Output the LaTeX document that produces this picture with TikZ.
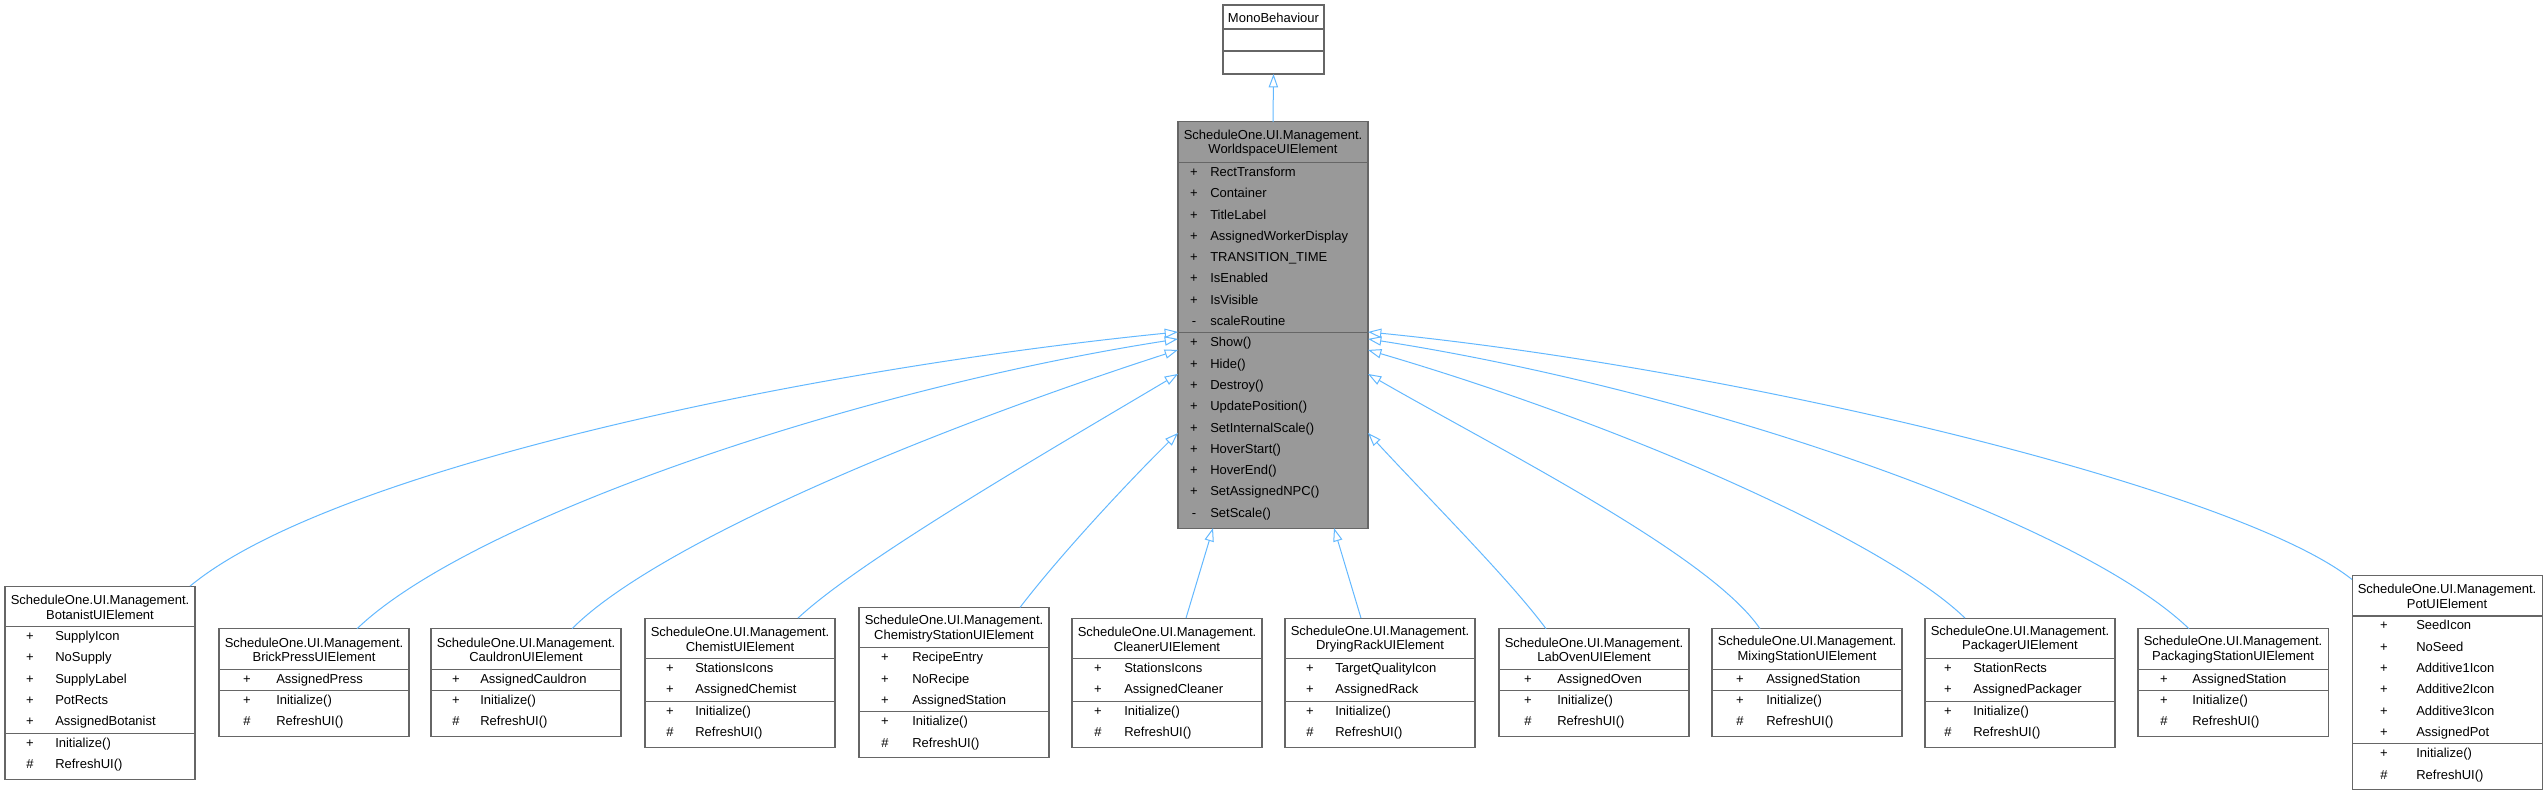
\documentclass[tikz,border=0pt]{standalone}
\usepackage{fontspec}
\setmainfont{Liberation Sans}
\usetikzlibrary{arrows.meta}
\usetikzlibrary{calc}

\definecolor{boxgray}{HTML}{666666}
\definecolor{boxfill}{HTML}{999999}
\definecolor{edgeblue}{HTML}{63B8FF}

% class box: [options]{name}{left x}{centre y}{title}{attributes}{methods}{symbol column}{name column}
\newcommand{\umlclass}[9][fill=white]{%
  \def\na{0}\foreach \vis/\mem [count=\i] in {#6} {\xdef\na{\i}}%
  \def\nm{0}\foreach \vis/\mem [count=\i] in {#7} {\xdef\nm{\i}}%
  \pgfmathsetmacro\ha{40.5+21.3*\na}%
  \pgfmathsetmacro\hb{\ha+21.3*\nm+3.5}%
  \node[classbox, #1, minimum height=\hb*0.75pt] (#2) at (#3,#4) {};
  \node[classtitle] at ($(#2.north west)+(95,21)$) {#5};
  \draw[classline] ($(#2.north west)+(0,40.5)$) -- +(190,0);
  \draw[classline] ($(#2.north west)+(0,\ha)$) -- +(190,0);
  \foreach \vis/\mem [count=\i] in {#6} {
    \node[member] at ($(#2.north west)+(#8,40.5+21.3*\i-10.65)$) {\vis};
    \node[member, anchor=west] at ($(#2.north west)+(#9,40.5+21.3*\i-10.65)$) {\mem};
  }
  \foreach \vis/\mem [count=\i] in {#7} {
    \node[member] at ($(#2.north west)+(#8,\ha+21.3*\i-10.65)$) {\vis};
    \node[member, anchor=west] at ($(#2.north west)+(#9,\ha+21.3*\i-10.65)$) {\mem};
  }
}

\begin{document}
\begin{tikzpicture}[x=0.75pt, y=-0.75pt,
    font=\fontsize{9.75}{10.9}\selectfont,
    classbox/.style={draw=boxgray, line width=0.8pt, minimum width=142.5pt, inner sep=0pt, outer sep=0pt, anchor=west},
    classline/.style={draw=boxgray, line width=0.8pt},
    classtitle/.style={align=center, inner sep=0pt},
    member/.style={inner sep=0pt, text height=7pt, text depth=2pt},
    inherit/.style={draw=edgeblue, line width=0.75pt, -{Triangle[open, length=10pt, width=7pt]}}]
        \useasboundingbox (0,0) rectangle (2547,795);

        % base class
        \node[classbox, fill=white, minimum width=75.75pt, minimum height=51.75pt] (mono) at (1223,39.5) {};
        \node[classtitle] at ($(mono.north west)+(50.5,12.5)$) {MonoBehaviour};
        \draw[classline] ($(mono.north west)+(0,24)$) -- +(101,0);
        \draw[classline] ($(mono.north west)+(0,46)$) -- +(101,0);

        \umlclass[fill=boxfill]{ws}{1178}{325}{ScheduleOne.UI.Management.\\WorldspaceUIElement}
          {+/RectTransform, +/Container, +/TitleLabel, +/AssignedWorkerDisplay, +/TRANSITION\_TIME, +/IsEnabled, +/IsVisible, -/scaleRoutine}
          {+/Show(), +/Hide(), +/Destroy(), +/UpdatePosition(), +/SetInternalScale(), +/HoverStart(), +/HoverEnd(), +/SetAssignedNPC(), -/SetScale()}{16}{32}

        % derived classes
        \umlclass{bot}{5}{682.7}{ScheduleOne.UI.Management.\\BotanistUIElement}
          {+/SupplyIcon, +/NoSupply, +/SupplyLabel, +/PotRects, +/AssignedBotanist}{+/Initialize(), \#/RefreshUI()}{25}{50}
        \umlclass{brick}{219}{682.7}{ScheduleOne.UI.Management.\\BrickPressUIElement}
          {+/AssignedPress}{+/Initialize(), \#/RefreshUI()}{28}{57}
        \umlclass{cauldron}{431}{682.7}{ScheduleOne.UI.Management.\\CauldronUIElement}
          {+/AssignedCauldron}{+/Initialize(), \#/RefreshUI()}{25}{49}
        \umlclass{chemist}{645}{682.7}{ScheduleOne.UI.Management.\\ChemistUIElement}
          {+/StationsIcons, +/AssignedChemist}{+/Initialize(), \#/RefreshUI()}{25}{50}
        \umlclass{chemst}{859}{682.7}{ScheduleOne.UI.Management.\\ChemistryStationUIElement}
          {+/RecipeEntry, +/NoRecipe, +/AssignedStation}{+/Initialize(), \#/RefreshUI()}{26}{53}
        \umlclass{cleaner}{1072}{682.7}{ScheduleOne.UI.Management.\\CleanerUIElement}
          {+/StationsIcons, +/AssignedCleaner}{+/Initialize(), \#/RefreshUI()}{26}{52}
        \umlclass{rack}{1285}{682.7}{ScheduleOne.UI.Management.\\DryingRackUIElement}
          {+/TargetQualityIcon, +/AssignedRack}{+/Initialize(), \#/RefreshUI()}{25}{50}
        \umlclass{oven}{1499}{682.7}{ScheduleOne.UI.Management.\\LabOvenUIElement}
          {+/AssignedOven}{+/Initialize(), \#/RefreshUI()}{29}{58}
        \umlclass{mixing}{1712}{682.7}{ScheduleOne.UI.Management.\\MixingStationUIElement}
          {+/AssignedStation}{+/Initialize(), \#/RefreshUI()}{28}{54}
        \umlclass{packager}{1925}{682.7}{ScheduleOne.UI.Management.\\PackagerUIElement}
          {+/StationRects, +/AssignedPackager}{+/Initialize(), \#/RefreshUI()}{23}{48}
        \umlclass{packst}{2138}{682.7}{ScheduleOne.UI.Management.\\PackagingStationUIElement}
          {+/AssignedStation}{+/Initialize(), \#/RefreshUI()}{26}{54}
        \umlclass{pot}{2352}{682.7}{ScheduleOne.UI.Management.\\PotUIElement}
          {+/SeedIcon, +/NoSeed, +/Additive1Icon, +/Additive2Icon, +/Additive3Icon, +/AssignedPot}{+/Initialize(), \#/RefreshUI()}{32}{64}

        % inheritance
        \draw[inherit] (ws.north) -- (mono.south);

        \draw[inherit] ($(bot.north west)+(185,0)$) .. controls (330,470) and (800,370) .. ($(ws.north west)+(0,210)$);
        \draw[inherit] ($(brick.north west)+(138,0)$) .. controls (470,520) and (850,390) .. ($(ws.north west)+(0,217)$);
        \draw[inherit] ($(cauldron.north west)+(141,0)$) .. controls (650,550) and (900,440) .. ($(ws.north west)+(0,228)$);
        \draw[inherit] ($(chemist.north west)+(153,0)$) .. controls (860,560) and (1050,450) .. ($(ws.north west)+(0,252)$);
        \draw[inherit] ($(chemst.north west)+(161,0)$) .. controls (1060,555) and (1130,480) .. ($(ws.north west)+(0,311)$);
        \draw[inherit] ($(cleaner.north west)+(114,0)$) -- ($(ws.south west)+(35,0)$);
        \draw[inherit] ($(rack.north west)+(76,0)$) -- ($(ws.south east)+(-34,0)$);
        \draw[inherit] ($(oven.north west)+(47,0)$) .. controls (1510,580) and (1430,500) .. ($(ws.north east)+(0,311)$);
        \draw[inherit] ($(mixing.north west)+(48,0)$) .. controls (1710,555) and (1500,450) .. ($(ws.north east)+(0,252)$);
        \draw[inherit] ($(packager.north west)+(40,0)$) .. controls (1890,545) and (1640,430) .. ($(ws.north east)+(0,228)$);
        \draw[inherit] ($(packst.north west)+(51,0)$) .. controls (2076,520) and (1696,390) .. ($(ws.north east)+(0,217)$);
        \draw[inherit] ($(pot.north west)+(0,4)$) .. controls (2240,490) and (1748,370) .. ($(ws.north east)+(0,210)$);
      \end{tikzpicture}
\end{document}
